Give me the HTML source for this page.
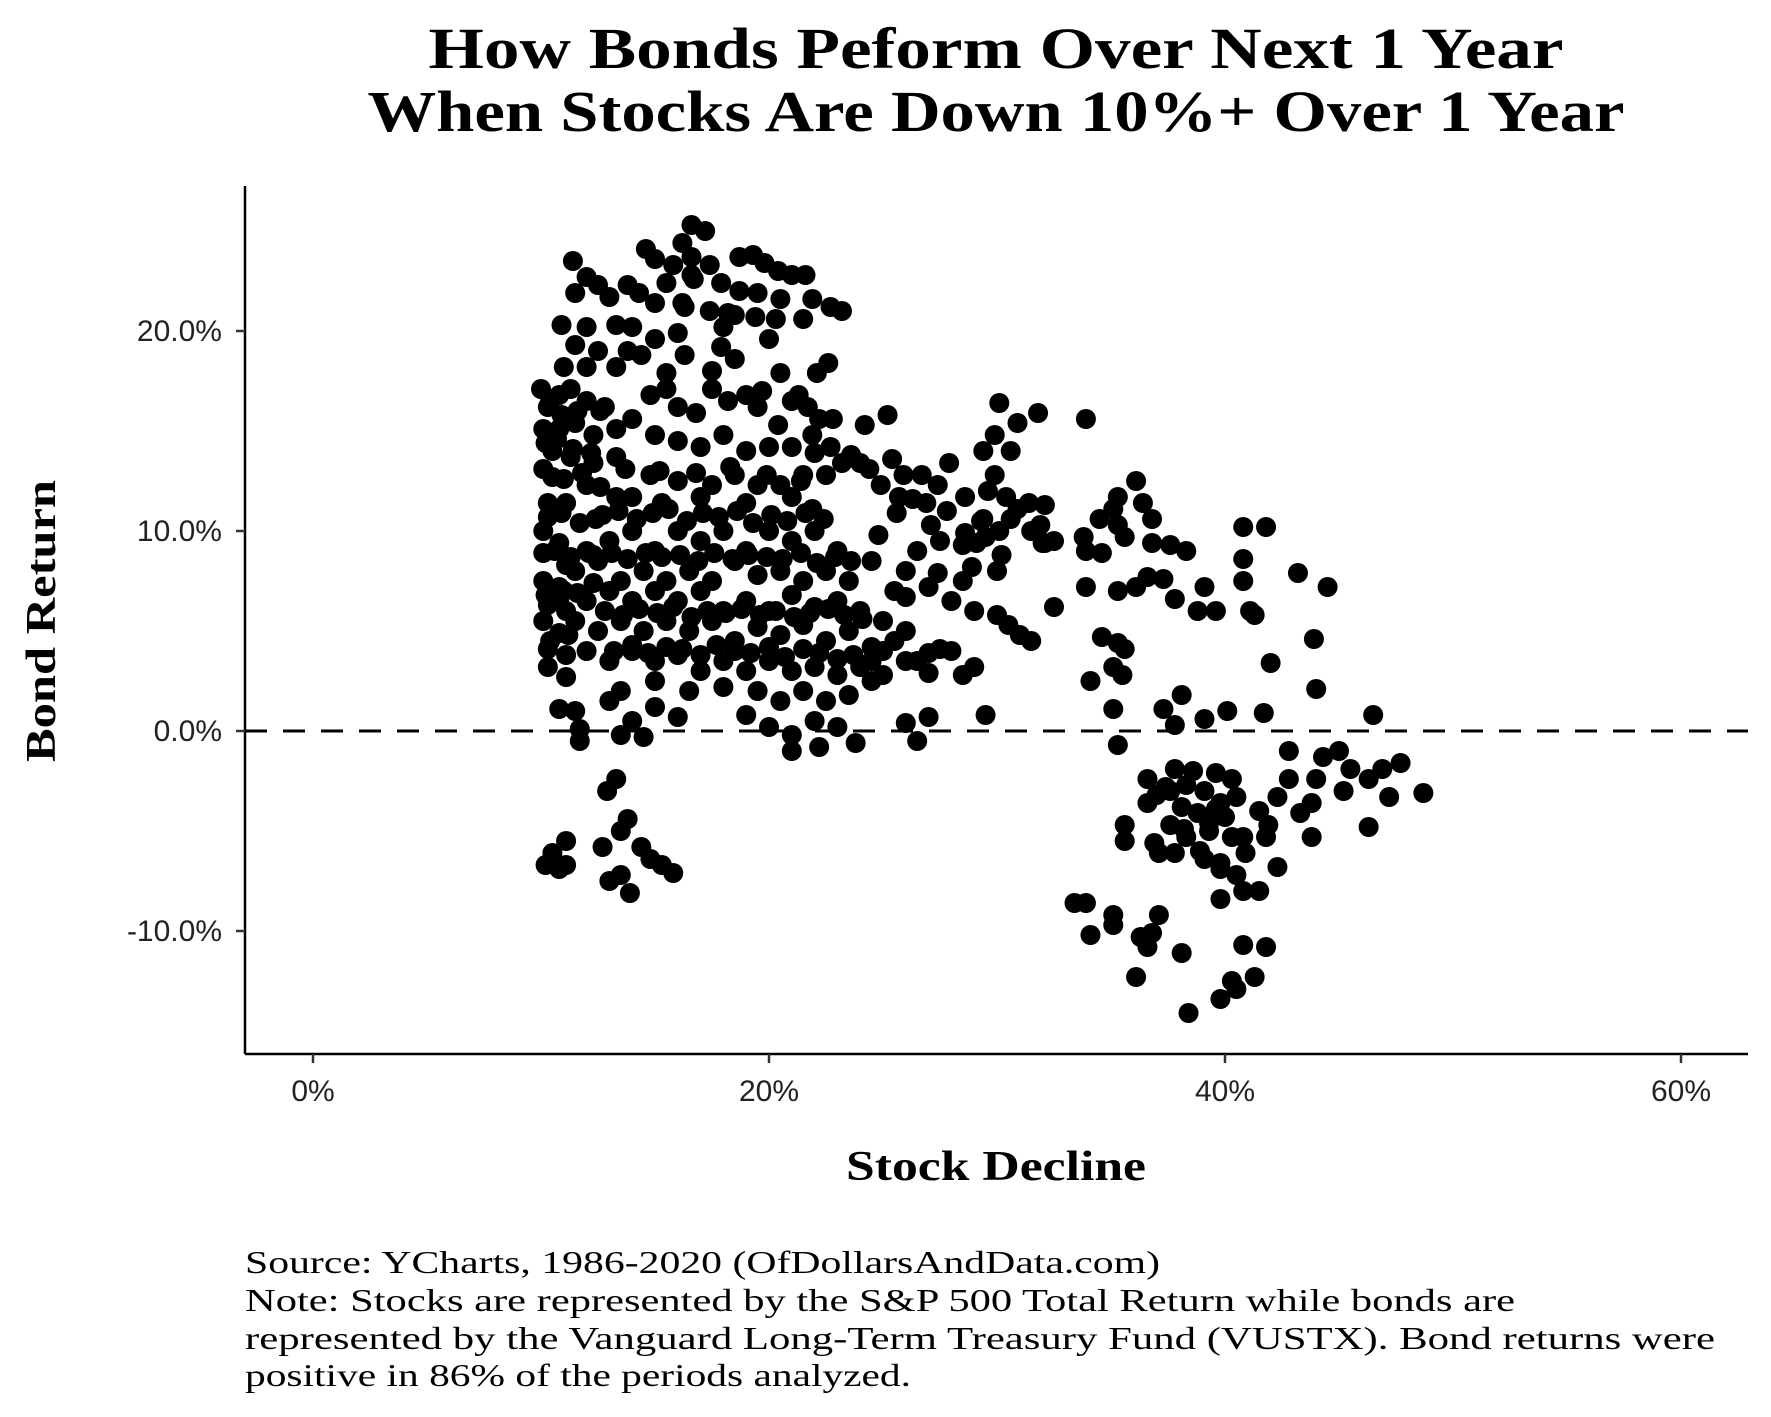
<!DOCTYPE html>
<html><head><meta charset="utf-8"><style>
html,body{margin:0;padding:0;background:#fff;}
svg{display:block;}
</style></head><body>
<svg id="chart" width="1771" height="1417" viewBox="0 0 1771 1417" xmlns="http://www.w3.org/2000/svg">
<rect width="1771" height="1417" fill="#fff"/>
<g font-family="Liberation Serif, serif" font-weight="bold" font-size="58" text-anchor="middle" fill="#000">
<text x="996" y="68" textLength="1135" lengthAdjust="spacingAndGlyphs">How Bonds Peform Over Next 1 Year</text>
<text x="996" y="131" textLength="1257" lengthAdjust="spacingAndGlyphs">When Stocks Are Down 10%+ Over 1 Year</text>
</g>
<g id="axes"></g>
<g id="points"></g>
<text x="996" y="1180" font-family="Liberation Serif, serif" font-weight="bold" font-size="42" text-anchor="middle" textLength="300" lengthAdjust="spacingAndGlyphs">Stock Decline</text>
<text transform="translate(55,621) rotate(-90)" font-family="Liberation Serif, serif" font-weight="bold" font-size="42" text-anchor="middle" textLength="282" lengthAdjust="spacingAndGlyphs">Bond Return</text>
<g font-family="Liberation Serif, serif" font-size="32" fill="#000">
<text x="245" y="1273" textLength="915" lengthAdjust="spacingAndGlyphs">Source:  YCharts, 1986-2020 (OfDollarsAndData.com)</text>
<text x="245" y="1311" textLength="1270" lengthAdjust="spacingAndGlyphs">Note: Stocks are represented by the S&amp;P 500 Total Return while bonds are</text>
<text x="245" y="1349" textLength="1470" lengthAdjust="spacingAndGlyphs">represented by the Vanguard Long-Term Treasury Fund (VUSTX). Bond returns were</text>
<text x="245" y="1386" textLength="666" lengthAdjust="spacingAndGlyphs">positive in 86% of the periods analyzed.</text>
</g>
</svg>
<script>
const xTicks = [0, 20, 40, 60];
const xTickLabels = ["0%", "20%", "40%", "60%"];
const yTicks = [-10, 0, 10, 20];
const yTickLabels = ["-10.0%", "0.0%", "10.0%", "20.0%"];
const stockDecline = [16.6,17.2,16.2,16.6,15.8,17.4,15.0,11.4,18.7,19.3,19.8,20.4,21.0,21.6,12.0,12.5,13.8,14.3,15.5,16.6,17.9,18.7,19.5,20.5,21.9,22.7,23.2,11.5,13.0,15.0,16.3,17.4,18.5,19.4,20.3,21.5,10.9,12.0,13.3,14.0,15.0,16.0,18.0,20.0,11.5,12.5,13.8,16.3,18.5,11.0,12.0,13.3,22.6,22.1,20.5,17.5,15.5,
10.0,10.3,10.8,11.3,12.0,12.8,10.1,10.8,11.5,12.3,13.3,14.0,10.5,11.3,12.3,13.3,10.1,12.0,13.3,10.3,11.1,10.1,10.8,10.1,11.1,10.1,10.8,10.3,11.1,10.1,10.8,10.3,11.1,10.3,11.1,10.8,11.7,11.7,
14.8,15.5,16.0,16.8,17.5,18.2,19.0,19.5,21.0,21.7,22.2,15.0,16.0,17.0,18.0,19.0,20.0,21.0,21.9,22.7,14.8,16.0,17.5,18.5,19.5,20.5,21.5,22.5,23.2,24.0,14.0,15.3,17.0,19.0,21.0,21.9,
25.2,25.4,25.9,24.4,26.7,25.7,24.9,26.9,27.9,27.4,
30.1,31.8,30.9,29.9,30.6,29.4,29.9,29.6,30.4,28.6,30.9,31.4,32.1,29.4,30.6,31.9,30.1,32.1,29.1,33.9,
12,13,14,15,16,17,18,19,20,21,22,23,
11.5,12.5,13.5,14.5,15.5,16.5,17.5,18.5,19.5,20.5,21.5,22.5,23.5,24.5,
11,12,13,14,15,16,17,18,19,20,21,22,23,24,25,
11.5,12.5,13.5,14.5,15.5,16.5,17.5,18.5,19.5,20.5,21.5,22.5,23.5,24.5,25.5,
12,13,14,15,16,17,18,19,20,21,22,23,24,25,26,
13.5,15,16.5,18,19.5,20.5,21.5,22.5,23.5,24.5,
11.5,13,14,15,16,19,20,21,22,23,26,27,23.8,21,22.2,26.5,14.5,13.5,
25.5,26,27,28,28.5,26.5,27.5,28.5,29.5,30,29,30,30.5,31,31.5,28,29,28.5,27,27.5,26,26.5,29.5,27,25,32,32.5,31.5,32.5,
33.8,34.5,35.1,35.3,36.1,36.4,36.8,35.3,35.6,36.8,37.6,38.3,33.9,34.6,36.6,37.3,37.8,38.8,39.1,39.6,33.9,35.3,36.1,40.8,41.8,40.8,40.8,41.1,41.3,43.2,44.5,43.9,42.0,44.0,40.1,41.7,46.5,34.6,35.3,35.1,35.6,34.1,35.5,35.1,37.3,38.1,37.8,35.3,39.1,
36.6,37.8,38.3,39.1,39.6,40.3,37.6,38.1,38.8,39.8,40.5,36.6,37.6,38.3,39.3,40.3,37.8,37.1,39.1,39.8,40.5,35.6,35.6,40.8,39.8,41.5,42.3,41.8,41.5,42.3,42.8,43.3,43.8,43.8,44.0,44.3,45.0,45.5,45.2,46.3,46.9,47.2,47.7,48.7,46.3,42.8,39.8,40.8,
33.4,33.9,34.1,35.1,35.1,36.3,36.8,37.1,36.6,36.1,38.1,38.4,39.8,40.3,40.5,40.8,41.3,41.8,
10.2,10.5,11.1,11.1,10.8,12.9,13.3,13.5,13.8,13.0,13.5,13.9,14.4,14.8,15.3,15.8,12.7,
10.4,10.9,11.6,10.2,10.7,11.4,12.2,10.5,11.0,11.8,12.6,10.3,10.9,11.7,12.4,10.6,11.3,12.1,10.2,10.8,11.6,12.3,10.4,11.2,
12.7,13.4,14.2,14.9,15.6,16.4,17.1,17.8,18.6,19.3,20.1,20.8,21.6,22.4,
12.3,13.1,13.8,14.6,15.3,16.1,16.9,17.6,18.4,19.1,19.9,20.6,21.4,22.1,22.9,23.6,
12.8,13.6,14.3,15.1,15.8,16.6,17.3,18.1,18.8,19.6,20.3,21.1,21.8,22.6,23.3,24.1,
13.2,14.0,14.7,15.5,16.2,17.0,17.7,18.5,19.2,20.0,20.7,21.5,22.2,23.0,23.7,24.5,
12.6,14.4,16.2,17.9,19.7,21.3,22.8,24.2,
13.7,15.2,16.8,18.3,19.9,21.4,
24.8,25.6,26.3,27.1,27.8,28.6,29.3,30.2,26.0,27.4,28.9,
37.0,38.6,39.3,40.0,38.9,37.4,39.6,40.9,41.9,38.2,36.9,
20.4,22.0,23.6,18.2,16.7,14.6];
const bondReturn = [25.3,25.0,24.4,23.7,23.3,23.3,23.6,23.5,23.7,23.8,23.4,23.0,22.8,22.8,22.7,22.3,22.3,21.9,22.4,22.8,22.4,22.0,21.9,21.6,21.6,21.2,21.0,21.9,21.7,21.4,21.2,21.0,20.8,20.7,20.6,20.6,20.3,20.2,20.3,20.2,19.6,19.9,20.2,19.6,19.3,19.0,19.0,18.8,18.6,18.2,18.2,18.2,18.4,17.9,17.9,18.0,17.9,
17.1,16.2,16.8,17.1,16.5,16.2,15.1,15.1,15.4,14.8,15.1,15.6,14.0,13.7,13.4,13.7,13.1,12.3,11.7,11.4,11.4,10.0,9.4,8.9,8.3,7.5,7.2,6.3,6.0,5.5,4.9,4.1,3.8,3.2,2.7,1.1,0.1,-0.5,
16.8,17.1,16.2,15.9,17.1,16.5,16.8,16.2,16.5,16.2,15.6,14.8,14.5,14.2,14.8,14.0,14.2,14.2,14.8,14.2,12.8,12.5,12.3,12.8,12.3,12.3,12.8,12.8,13.4,13.4,11.7,11.4,11.7,11.4,11.7,11.1,
15.8,13.6,12.8,13.1,12.8,11.7,12.3,11.4,13.4,12.3,
16.4,15.9,15.4,14.8,14.0,14.0,12.8,12.0,11.7,11.7,11.1,11.4,11.3,10.6,10.6,10.3,10.0,9.4,9.4,15.6,
9,9.5,10,9,10,9.5,10,9,10,9.5,10,9,
8,8.5,7.5,8,7.5,8,7.5,8.5,7.8,8,7.5,8,7.5,8.5,
7,6.5,7,6.5,7,6.5,7,6,6.5,6,6.8,6.2,6.5,6,5.5,
5.5,5,5.5,5,5.5,5,5.5,4.5,5.2,4.8,5.3,4.5,5,4.2,4.5,
4,3.5,4,3.5,3.8,3,3.5,3,3.5,3,3.2,2.8,3.2,2.8,3.5,
2,2.5,2,2.2,2,1.5,2,1.5,1.8,2.5,
1,1.5,0.5,1.2,0.7,0.8,0.2,-0.2,0.5,0.2,0.4,0.7,-0.6,-1,-0.8,-0.5,-0.3,-0.2,
7,8,7.2,6.5,7.5,9,9.5,9.3,9.7,8,6,5.8,5.3,4.8,4.5,4,3.2,2.8,3.9,4.1,5,3.5,0.8,2.9,4,9.4,6.2,10,9.5,
9.7,10.6,11.1,11.7,12.5,11.4,10.6,10.3,9.7,9.4,9.3,9.0,9.0,8.9,7.7,7.6,6.6,6.0,7.2,6.0,7.2,7.0,7.2,10.2,10.2,8.6,7.5,6.0,5.8,7.9,7.2,4.6,3.4,2.1,1.0,0.9,0.8,4.7,4.4,3.2,4.1,2.5,2.8,1.1,1.1,1.8,0.3,-0.7,0.6,
-2.4,-1.9,-2.7,-3.0,-2.1,-2.4,-3.0,-3.8,-4.1,-3.6,-3.3,-3.6,-4.7,-5.3,-5.0,-5.3,-6.1,-6.1,-6.4,-6.9,-7.2,-4.7,-5.5,-8.0,-8.4,-8.0,-6.8,-5.3,-4.0,-3.3,-2.4,-4.1,-3.6,-5.3,-2.4,-1.3,-1.0,-1.9,-3.0,-2.4,-1.9,-3.3,-1.6,-3.1,-4.8,-1.0,-6.6,-5.3,
-8.6,-8.6,-10.2,-9.2,-9.7,-10.3,-10.1,-9.2,-10.8,-12.3,-11.1,-14.1,-13.4,-12.5,-12.9,-10.7,-12.3,-10.8,
-6.7,-6.1,-5.5,-6.7,-6.9,-3.0,-2.4,-5.0,-4.4,-7.5,-7.2,-8.1,-5.8,-6.4,-6.7,-7.1,-5.8,
16.5,15.8,16.0,14.4,14.6,14.1,13.9,12.7,12.6,12.9,12.2,10.7,10.9,10.4,10.6,9.0,8.7,8.9,6.8,6.6,6.9,7.4,4.5,4.8,
10.8,11.0,10.6,10.9,11.1,10.5,10.9,10.7,11.0,10.4,10.8,10.5,10.9,10.6,
8.8,8.9,8.6,8.9,8.7,8.8,8.5,8.9,8.6,8.8,8.7,8.6,8.9,8.4,8.7,8.5,
6.0,5.8,6.1,5.9,6.2,5.7,6.0,5.9,6.1,5.8,6.0,5.7,5.9,6.1,5.8,5.6,
4.0,4.3,3.9,4.2,4.1,3.8,4.3,4.0,3.9,4.2,3.7,4.1,3.9,3.6,3.8,3.5,
16.0,18.8,21.4,19.2,17.0,16.8,15.6,15.3,
13.1,13.0,12.9,13.2,12.8,12.5,
9.8,10.9,11.6,10.3,11.0,9.9,10.5,8.8,6.7,7.9,8.2,
-3.2,-2.0,-4.6,-4.3,-6.0,-2.8,-3.9,-6.1,-4.7,-4.9,-5.6,
15.3,13.9,13.8,20.9,22.6,24.1];

const NS = "http://www.w3.org/2000/svg";
const X0 = 313, XPER = 456/20, Y0 = 731, YPER = 20;
const AX_L = 245, AX_R = 1748, AX_T = 186, AX_B = 1054;
function xScale(v){ return X0 + v*XPER; }
function yScale(v){ return Y0 - v*YPER; }
function mk(tag, attrs, parent){
  const el = document.createElementNS(NS, tag);
  for (const k in attrs) el.setAttribute(k, attrs[k]);
  parent.appendChild(el);
  return el;
}
const axes = document.getElementById('axes');
const pts = document.getElementById('points');

const zl = mk('line', {x1:AX_L, x2:AX_R, y1:yScale(0), y2:yScale(0), stroke:'#000', 'stroke-width':3, 'stroke-dasharray':'22 16'}, axes);



const ya = mk('line', {x1:AX_L, x2:AX_L, y1:AX_T, y2:AX_B, stroke:'#000', 'stroke-width':2.5}, axes);


const xa = mk('line', {x1:AX_L, x2:AX_R, y1:AX_B, y2:AX_B, stroke:'#000', 'stroke-width':2.5}, axes);



xTicks.forEach((t,i)=>{
  const x = xScale(t);
  const tk = mk('line', {x1:x, x2:x, y1:AX_B, y2:AX_B+9, stroke:'#333', 'stroke-width':2.5}, axes);
  
  
  const lb = mk('text', {x:x, y:1101, 'font-family':'Liberation Sans, sans-serif', 'font-size':30, 'text-anchor':'middle', fill:'#222'}, axes);
  lb.textContent = xTickLabels[i];
  
  
});
yTicks.forEach((t,i)=>{
  const y = yScale(t);
  const tk = mk('line', {x1:AX_L-9, x2:AX_L, y1:y, y2:y, stroke:'#333', 'stroke-width':2.5}, axes);
  
  
  const lb = mk('text', {x:222, y:y+10, 'font-family':'Liberation Sans, sans-serif', 'font-size':30, 'text-anchor':'end', fill:'#222'}, axes);
  lb.textContent = yTickLabels[i];
  
  
});
const n = Math.min(stockDecline.length, bondReturn.length);
for (let i=0;i<n;i++){
  const c = mk('circle', {cx:xScale(stockDecline[i]), cy:yScale(bondReturn[i]), r:10, fill:'#000'}, pts);
  
  
}
</script>
</body></html>
